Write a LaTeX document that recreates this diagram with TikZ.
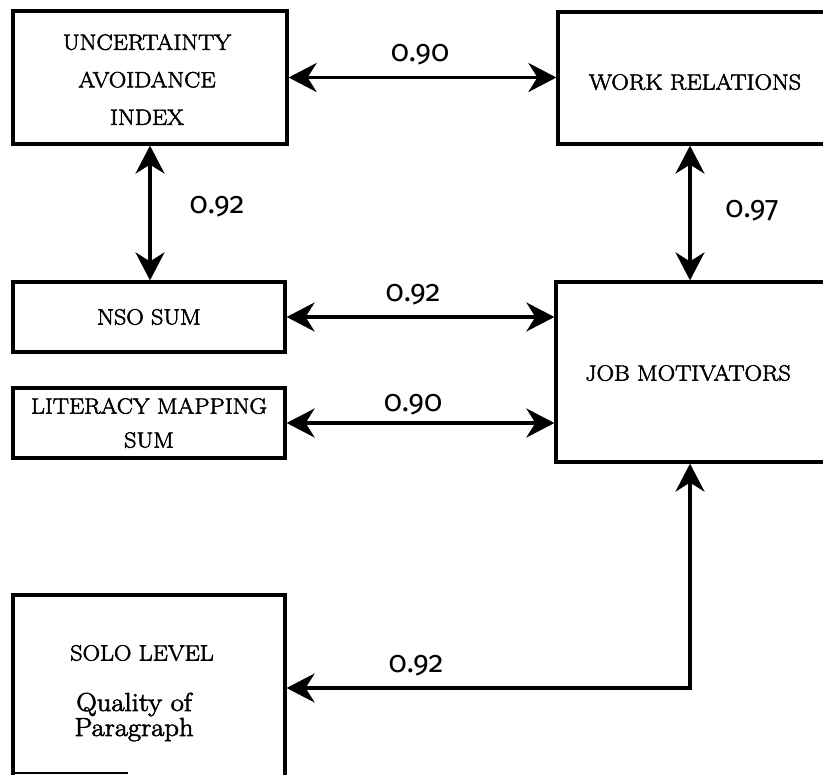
\documentclass[tikz,border=0pt]{standalone}
\usepackage{fontspec}
\newfontfamily\numfont[Numbers=OldStyle]{Fira Sans}
\newfontfamily\boxfont[FakeBold=2.5,FakeStretch=1.1]{Latin Modern Roman}
\usetikzlibrary{arrows.meta}
\tikzset{
  box/.style={draw=black, line width=3.2pt, rectangle, inner sep=0pt, align=center,
    font=\boxfont\fontsize{22}{37.5}\selectfont},
  txt/.style={inner sep=0pt, align=center, font=\boxfont\fontsize{22}{37.5}\selectfont},
  conn/.style={line width=3.2pt, {Stealth[length=28pt,width=29pt,inset=9pt]}-{Stealth[length=28pt,width=29pt,inset=9pt]}},
  val/.style={inner sep=0pt, font=\numfont\fontsize{30}{34}\selectfont},
}
\begin{document}
\begin{tikzpicture}[x=1pt,y=-1pt]
\useasboundingbox (0,0) rectangle (823,775);
\clip (0,0) rectangle (823,775);
% boxes
\node[box, minimum width=274pt, minimum height=133pt] (uai) at (150,77.5) {};
\node[txt] (uait) at (147,79.5) {UNCERTAINTY\\AVOIDANCE\\INDEX};
\node[box, minimum width=290pt, minimum height=132pt] (wr) at (703,78) {};
\node[txt] (wrt) at (695,82) {WORK RELATIONS};
\node[box, minimum width=272pt, minimum height=70pt] (nso) at (149,317) {NSO SUM};
\node[box, minimum width=272pt, minimum height=70pt, font=\boxfont\fontsize{22}{34}\selectfont] (lit) at (149,423) {LITERACY MAPPING\\SUM};
\node[box, minimum width=290pt, minimum height=180pt] (jm) at (701,372) {};
\node[txt] (jmt) at (688,373) {JOB MOTIVATORS};
\node[box, minimum width=272pt, minimum height=220pt] (solo) at (149,705) {};
\node[txt] (solot) at (142,653) {SOLO LEVEL};
\node[txt, font=\boxfont\fontsize{26}{25}\selectfont] (soloq) at (134,717) {Quality of\\Paragraph};
\draw[line width=1.6pt] (13,773) -- (128,773);
% connectors
\draw[conn] (uai.east) -- (uai.east -| wr.west);
\draw[conn] (uai.south) -- (uai.south |- nso.north);
\coordinate (vx) at (690,0);
\draw[conn] (vx |- wr.south) -- (vx |- jm.north);
\draw[conn] (nso.east) -- (nso.east -| jm.west);
\draw[conn] (lit.east) -- (lit.east -| jm.west);
\coordinate (bend) at (690,688);
\draw[conn] (bend |- jm.south) -- (bend) -- (bend -| solo.east);
% values
\node[val] (v1) at (420,55) {0.90};
\node[val] (v2) at (217,207) {0.92};
\node[val] (v3) at (752,211) {0.97};
\node[val] (v4) at (413,295) {0.92};
\node[val] (v5) at (413,405) {0.90};
\node[val] (v6) at (416,666) {0.92};
\end{tikzpicture}
\end{document}
